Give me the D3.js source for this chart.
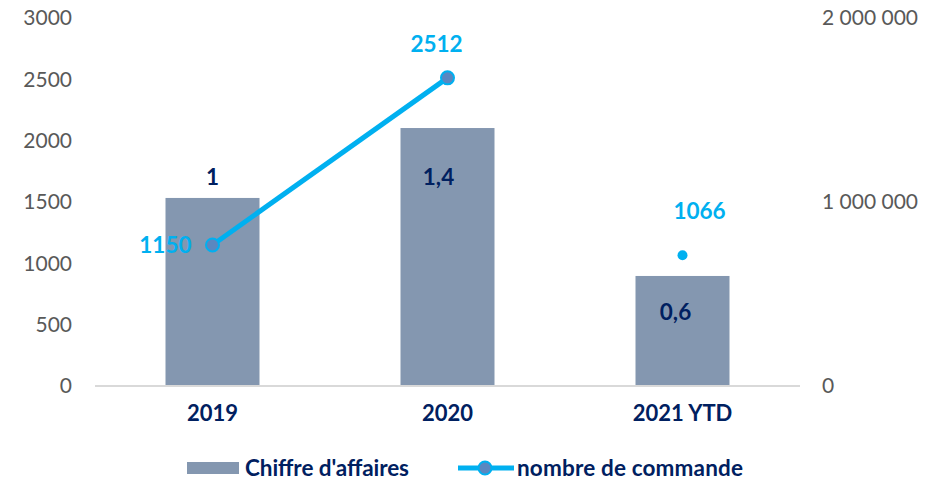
<!DOCTYPE html>
<html>
<head>
<meta charset="utf-8">
<script src="https://cdn.jsdelivr.net/npm/d3@7"></script>
<style>
  body { margin: 0; background: #fff; }
  text { font-family: Lato, "Open Sans", sans-serif; }
</style>
</head>
<body>
<script>
// data
const categories = ["2019", "2020", "2021 YTD"];
const revenue = [1022000, 1402000, 598000];     // Chiffre d'affaires (right axis)
const revenueLabels = ["1", "1,4", "0,6"];
const orders = [1150, 2512, 1066];              // nombre de commande (left axis)
const leftTicks = [0, 500, 1000, 1500, 2000, 2500, 3000];
const rightTicks = [0, 1000000, 2000000];

//Margin Convention
const margin = {top: 18, right: 127, bottom: 96, left: 95}
const width = 927 - margin.left - margin.right
const height = 482 - margin.top - margin.bottom

const svg = d3.select("body").append("svg")
  .attr("width", 927)
  .attr("height", 482)
  .append("g")
  .attr("transform", "translate(" + margin.left + "," + margin.top + ")");

//Scales
const x = d3.scaleBand().domain(categories).range([0, width]).paddingInner(0.6).paddingOuter(0.3);
const yLeft = d3.scaleLinear().domain([0, 3000]).range([height, 0]);
const yRight = d3.scaleLinear().domain([0, 2000000]).range([height, 0]);
const fmtSpace = d => d3.format(",")(d).replace(/,/g, " ");

//axes
const leftAxis = svg.append("g")
  .call(d3.axisLeft(yLeft).tickValues(leftTicks).tickSize(0).tickPadding(23).tickFormat(d3.format("d")));
const rightAxis = svg.append("g")
  .attr("transform", "translate(" + width + ",0)")
  .call(d3.axisRight(yRight).tickValues(rightTicks).tickSize(0).tickPadding(22).tickFormat(fmtSpace));
[leftAxis, rightAxis].forEach(function(g) {
  g.select(".domain").remove();
  g.selectAll("text").attr("font-size", 21).attr("fill", "#595959")
    .style("font-family", "Lato, sans-serif");
});

//bars
svg.selectAll(".bar")
  .data(revenue)
  .enter().append("rect")
  .attr("class", "bar")
  .attr("x", (d, i) => x(categories[i]))
  .attr("width", x.bandwidth())
  .attr("y", d => yRight(d))
  .attr("height", d => height - yRight(d))
  .attr("fill", "#8497b0");

//baseline
svg.append("line")
  .attr("x1", 0).attr("x2", width)
  .attr("y1", height).attr("y2", height)
  .attr("stroke", "#d9d9d9").attr("stroke-width", 2);

const bottomAxis = svg.append("g")
  .attr("transform", "translate(0," + height + ")")
  .call(d3.axisBottom(x).tickSize(0).tickPadding(19));
bottomAxis.select(".domain").remove();
bottomAxis.selectAll("text")
  .attr("font-size", 22).attr("font-weight", "bold").attr("fill", "#002060")
  .style("font-family", "Lato, sans-serif");

// bar labels (placed like in the original: first above, others inside)
const barLabelPos = [{dx: 0, dy: -21}, {dx: -9, dy: 49}, {dx: -7, dy: 36}];
svg.selectAll(".barLabel")
  .data(revenue)
  .enter().append("text")
  .attr("class", "barLabel")
  .attr("x", (d, i) => x(categories[i]) + x.bandwidth() / 2 + barLabelPos[i].dx)
  .attr("y", (d, i) => yRight(d) + barLabelPos[i].dy)
  .attr("dy", ".35em")
  .attr("text-anchor", "middle")
  .attr("font-size", 22.5).attr("font-weight", "bold").attr("fill", "#002060")
  .text((d, i) => revenueLabels[i]);

//line (the 2021 YTD point is not joined to the line)
const cx = i => x(categories[i]) + x.bandwidth() / 2;
const line = d3.line()
  .x((d, i) => cx(i))
  .y(d => yLeft(d));

svg.append("path")
  .datum(orders.slice(0, 2))
  .attr("d", line)
  .attr("fill", "none")
  .attr("stroke", "#00b0f0")
  .attr("stroke-width", 5);

svg.selectAll(".dot")
  .data(orders)
  .enter().append("circle")
  .attr("class", "dot")
  .attr("cx", (d, i) => cx(i))
  .attr("cy", d => yLeft(d))
  .attr("r", (d, i) => i < 2 ? 6.5 : 5)
  .attr("fill", (d, i) => i < 2 ? "#5a87c0" : "#00b0f0")
  .attr("stroke", "#00b0f0")
  .attr("stroke-width", (d, i) => i < 2 ? 2 : 0);

// line labels
const lineLabelPos = [{dx: -21, dy: 0, anchor: "end"}, {dx: -11, dy: -34, anchor: "middle"}, {dx: 17, dy: -44, anchor: "middle"}];
svg.selectAll(".lineLabel")
  .data(orders)
  .enter().append("text")
  .attr("class", "lineLabel")
  .attr("x", (d, i) => cx(i) + lineLabelPos[i].dx)
  .attr("y", (d, i) => yLeft(d) + lineLabelPos[i].dy)
  .attr("dy", ".35em")
  .attr("text-anchor", (d, i) => lineLabelPos[i].anchor)
  .attr("font-size", 22.5).attr("font-weight", "bold").attr("fill", "#00b0f0")
  .text(d => d);

//legend
const legend = d3.select("svg").append("g").attr("transform", "translate(0,468)");
legend.append("rect")
  .attr("x", 187).attr("y", -6).attr("width", 52).attr("height", 12)
  .attr("fill", "#8497b0");
legend.append("text")
  .attr("x", 245).attr("dy", ".35em")
  .attr("font-size", 22.5).attr("font-weight", "bold").attr("fill", "#002060")
  .attr("textLength", 164)
  .text("Chiffre d'affaires");
legend.append("line")
  .attr("x1", 458).attr("x2", 514)
  .attr("stroke", "#00b0f0").attr("stroke-width", 5);
legend.append("circle")
  .attr("cx", 485).attr("r", 6.5)
  .attr("fill", "#5a87c0").attr("stroke", "#00b0f0").attr("stroke-width", 2);
legend.append("text")
  .attr("x", 517).attr("dy", ".35em")
  .attr("font-size", 22.5).attr("font-weight", "bold").attr("fill", "#002060")
  .attr("textLength", 226)
  .text("nombre de commande");
</script>
</body>
</html>
